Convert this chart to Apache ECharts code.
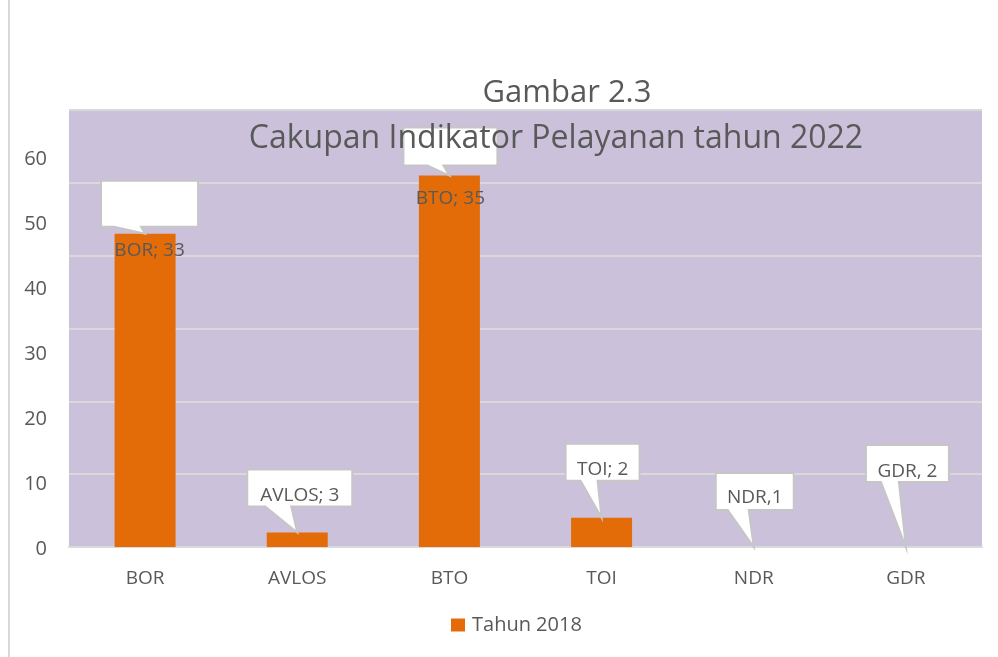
<!DOCTYPE html>
<html>
<head>
<meta charset="utf-8">
<script src="https://cdn.jsdelivr.net/npm/echarts@6/dist/echarts.min.js"></script>
<style>
  html, body { margin: 0; padding: 0; background: #fff; }
  #chart { width: 998px; height: 657px; }
</style>
</head>
<body>
<div id="chart"></div>
<script>
// data
const categories = ["BOR", "AVLOS", "BTO", "TOI", "NDR", "GDR"];
const barValues = [43, 2, 51, 4, 0, 0];
const calloutTexts = ["BOR; 33", "AVLOS; 3", "BTO; 35", "TOI; 2", "NDR,1", "GDR, 2"];
const yTickLabels = [0, 10, 20, 30, 40, 50, 60];
const seriesName = "Tahun 2018";

const textColor = "#595959";
const font = "'Open Sans', 'Noto Sans', sans-serif";

// callout shapes, relative to the bar top: box [dx, dy, w, h], wedge base [from, to] along
// the box bottom, and the text centre height measured from the box top
const calloutBox = [[-44, -53, 97, 46], [-50, -63, 105, 37], [-46, -48, 94, 38],
                    [-36, -74, 74, 37], [-38, -74, 78, 37], [-40, -102, 83, 37]];
const calloutWedge = [[13, 40], [18, 44], [24, 40], [15, 32], [12, 33], [15, 33]];
const calloutTextY = [70, 26, 71, 26, 25, 27];

const chart = echarts.init(document.getElementById("chart"));

function renderCallout(params, api) {
  const i = params.dataIndex;
  const tip = api.coord([api.value(0), api.value(1)]);
  const [dx, dy, w, h] = calloutBox[i];
  const [wa, wb] = calloutWedge[i];
  const x0 = tip[0] + dx, y0 = tip[1] + dy;
  const pts = [
    [x0, y0], [x0 + w, y0], [x0 + w, y0 + h], [x0 + wb, y0 + h],
    [tip[0], tip[1]], [x0 + wa, y0 + h], [x0, y0 + h]
  ];
  return {
    type: "group",
    children: [
      {
        type: "polygon",
        shape: { points: pts },
        style: { fill: "#ffffff", stroke: "#c6c6c6", lineWidth: 2 }
      },
      {
        type: "text",
        style: {
          text: calloutTexts[i], x: x0 + w / 2, y: y0 + calloutTextY[i],
          align: "center", verticalAlign: "middle",
          fontFamily: font, fontSize: 19, fill: textColor
        }
      }
    ]
  };
}

const option = {
  animation: false,
  title: [
    {
      text: "Gambar 2.3",
      left: 562, top: 73, textAlign: "center",
      textStyle: { fontFamily: font, fontSize: 31, fontWeight: "normal", color: textColor }
    },
    {
      text: "Cakupan Indikator Pelayanan tahun 2022",
      left: 551, top: 118, textAlign: "center",
      textStyle: { fontFamily: font, fontSize: 32, fontWeight: "normal", color: textColor }
    }
  ],
  legend: {
    data: [seriesName],
    bottom: 17, left: 446,
    itemWidth: 14, itemHeight: 13, itemGap: 6,
    icon: "rect",
    textStyle: { fontFamily: font, fontSize: 20, color: textColor, padding: [0, 0, 0, 2] }
  },
  graphic: [
    { type: "line", shape: { x1: 9, y1: 0, x2: 9, y2: 657 }, style: { stroke: "#d9d9d9", lineWidth: 2 } }
  ],
  grid: [
    { left: 69, right: 16, top: 110, bottom: 110, show: true, backgroundColor: "#ccc1da", borderWidth: 0 },
    { left: 69, right: 16, top: 159, bottom: 108, show: false }
  ],
  xAxis: [
    {
      type: "category", data: categories, gridIndex: 0,
      axisTick: { show: false },
      axisLine: { lineStyle: { color: "#d9d9d9", width: 2 } },
      axisLabel: { margin: 22, fontFamily: font, fontSize: 19, color: textColor }
    },
    { type: "category", data: categories, gridIndex: 1, show: false }
  ],
  yAxis: [
    {
      type: "value", min: 0, max: 60, interval: 10, gridIndex: 0,
      axisLabel: { show: false },
      axisLine: { show: false }, axisTick: { show: false },
      splitLine: { lineStyle: { color: "#d9d9d9", width: 2 } }
    },
    {
      type: "value", min: yTickLabels[0], max: yTickLabels[yTickLabels.length - 1],
      interval: yTickLabels[1] - yTickLabels[0], gridIndex: 1,
      axisLine: { show: false }, axisTick: { show: false }, splitLine: { show: false },
      axisLabel: { margin: 22, fontFamily: font, fontSize: 20, color: textColor }
    }
  ],
  series: [
    {
      name: seriesName, type: "bar", xAxisIndex: 0, yAxisIndex: 0,
      barWidth: 61,
      itemStyle: { color: "#e36c09" },
      data: barValues, z: 2
    },
    {
      name: "callout", type: "custom", xAxisIndex: 0, yAxisIndex: 0,
      silent: true, z: 3,
      renderItem: renderCallout,
      data: barValues.map((v, i) => [i, v])
    }
  ]
};

chart.setOption(option);
</script>
</body>
</html>
